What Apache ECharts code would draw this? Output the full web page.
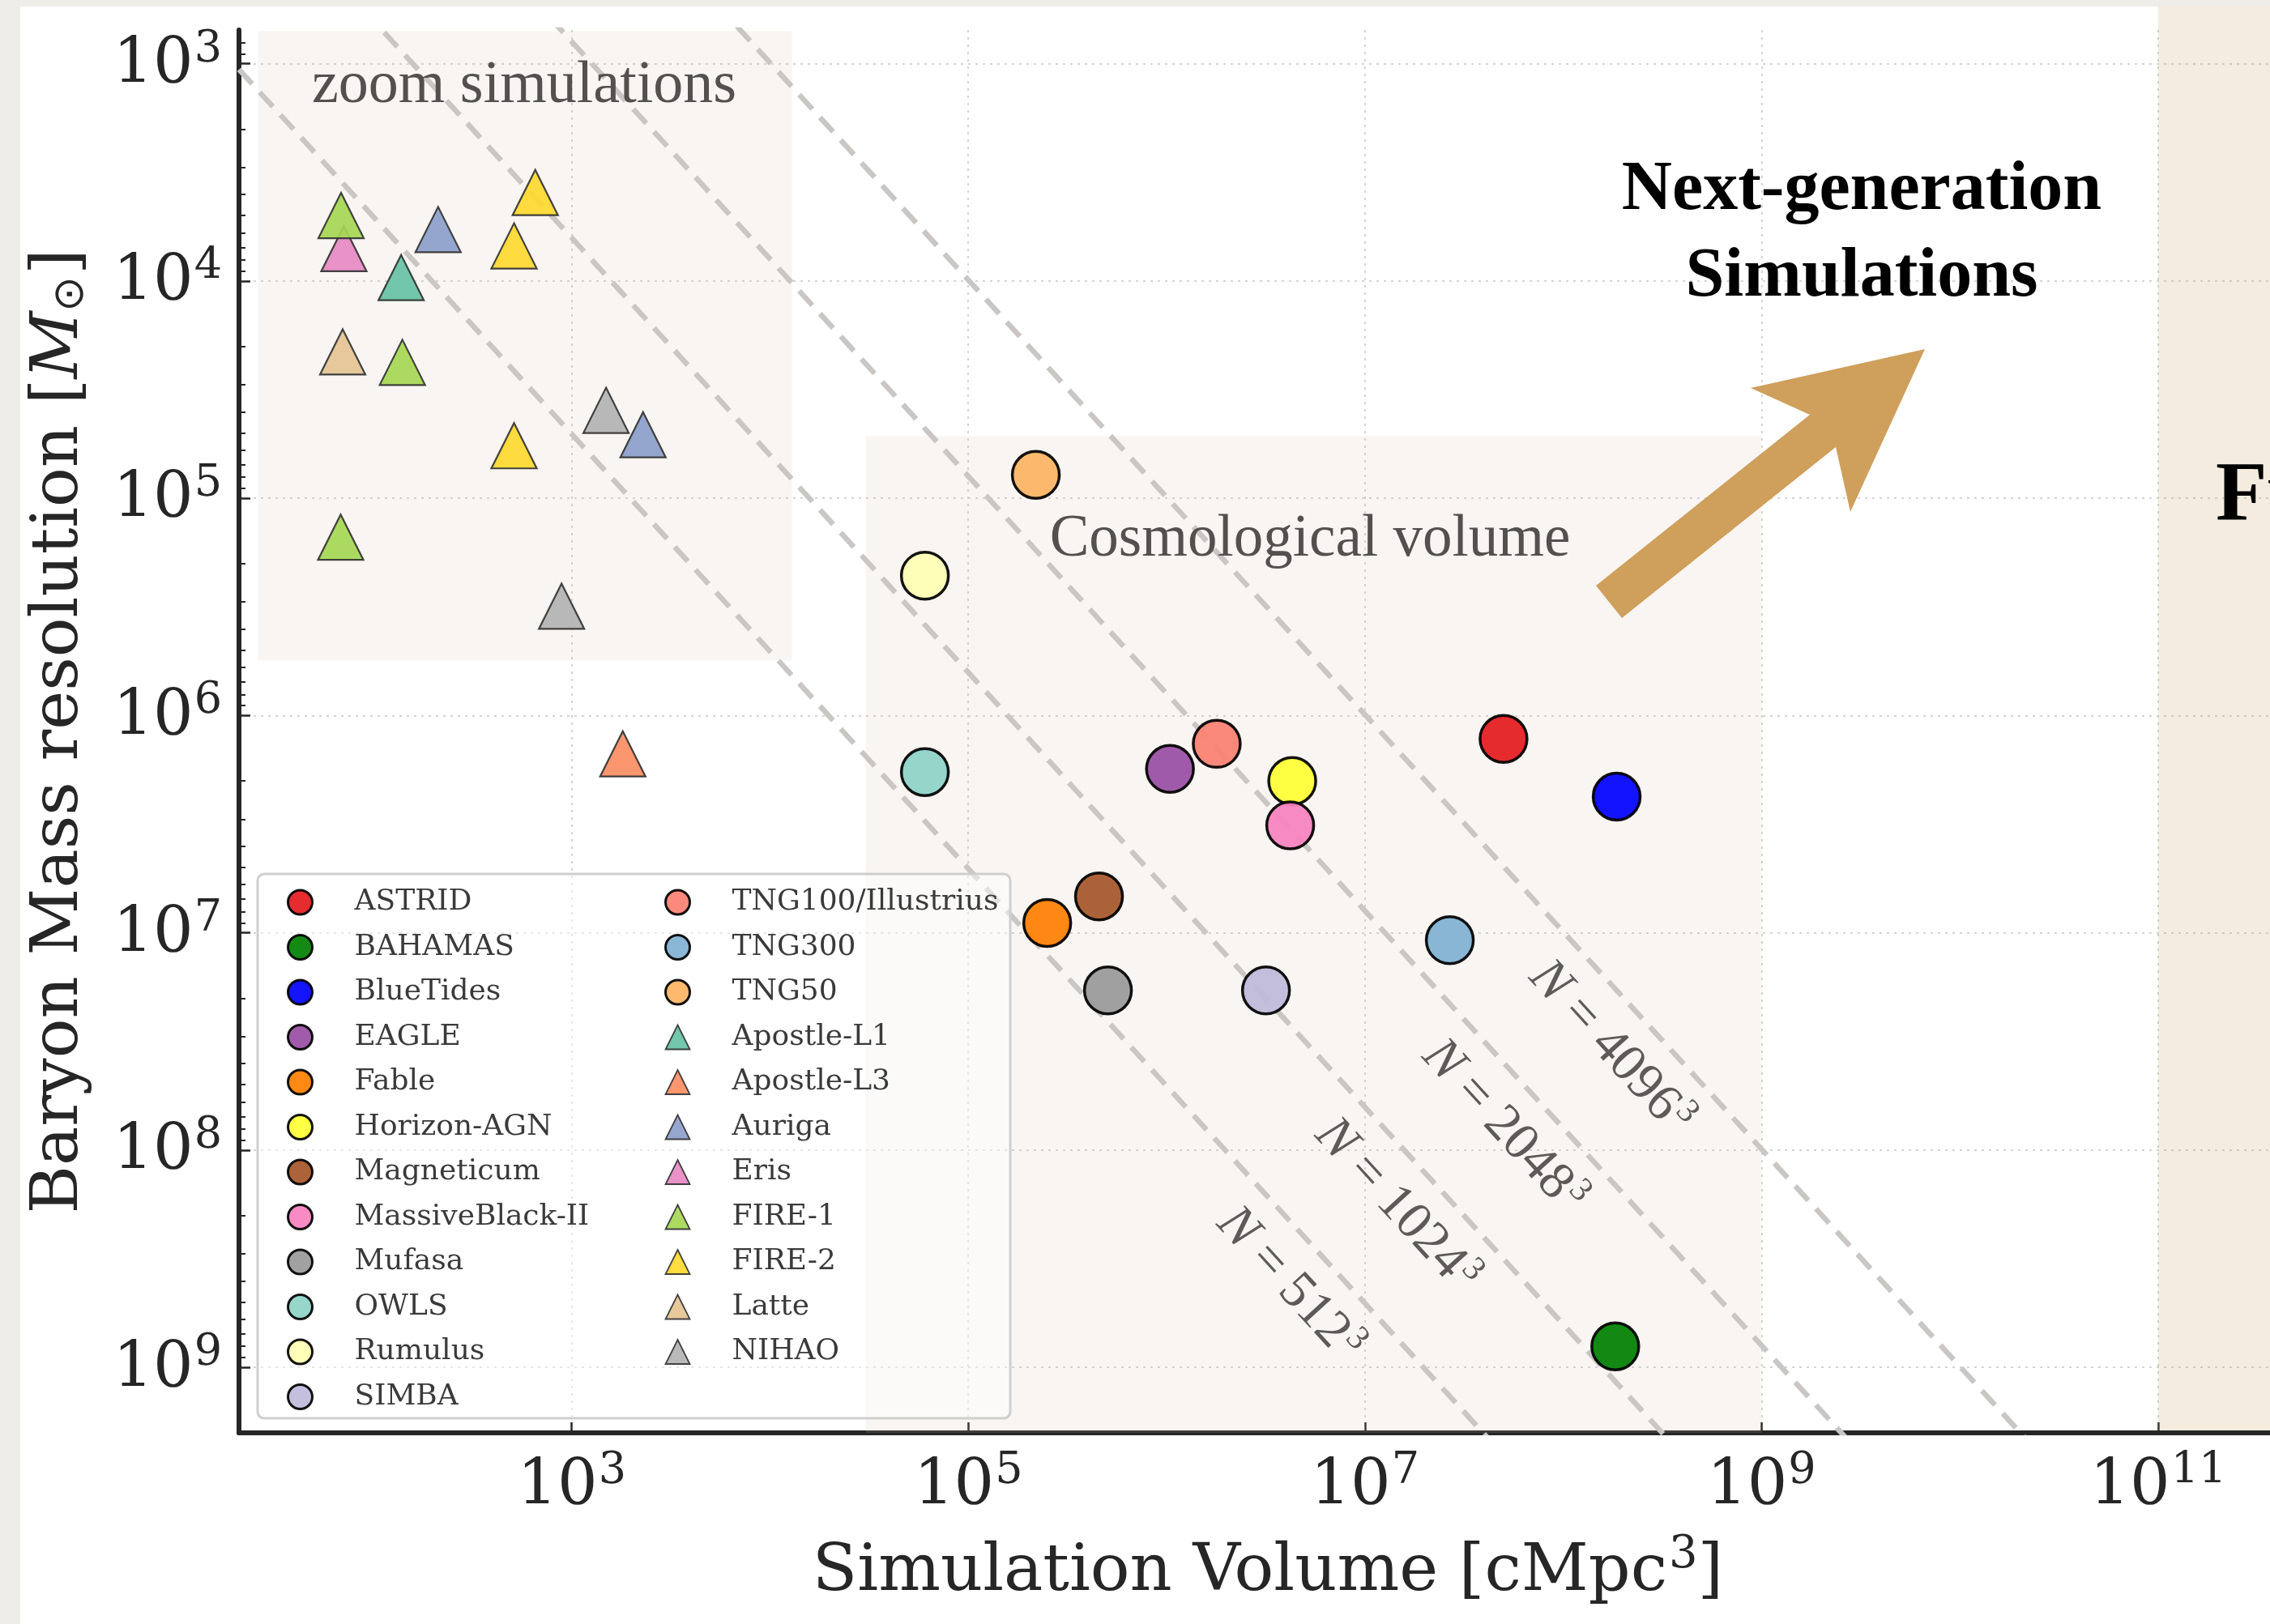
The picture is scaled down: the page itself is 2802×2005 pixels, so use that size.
<!DOCTYPE html>
<html>
<head>
<meta charset="utf-8">
<script src="https://cdn.jsdelivr.net/npm/echarts@6/dist/echarts.min.js"></script>
<style>
  html, body { margin: 0; padding: 0; width: 2802px; height: 2005px; overflow: hidden; background: #eeede8; }
  #card { position: absolute; left: 25px; top: 8px; right: 0; bottom: 0; background: #ffffff; }
  #chart { position: absolute; left: 0; top: 0; width: 2802px; height: 2005px; }
</style>
</head>
<body>
<div id="card"></div>
<div id="chart"></div>
<script>
// ---- Cosmological-volume runs: box volume [cMpc^3] and baryon mass resolution [M_sun]
const cosmoNames  = ['ASTRID', 'BAHAMAS', 'BlueTides', 'EAGLE', 'Fable', 'Horizon-AGN', 'Magneticum',
                     'MassiveBlack-II', 'Mufasa', 'OWLS', 'Rumulus', 'SIMBA', 'TNG100/Illustrius', 'TNG300', 'TNG50'];
const cosmoVolume = [5.0e7, 1.83e8, 1.86e8, 1.04e6, 2.5e5, 4.3e6, 4.56e5,
                     4.2e6, 5.06e5, 6.04e4, 6.04e4, 3.17e6, 1.79e6, 2.68e7, 2.19e5];
const cosmoMass   = [1.28e6, 8.0e8, 2.36e6, 1.76e6, 9.0e6, 2.0e6, 6.8e6,
                     3.2e6, 1.84e7, 1.82e6, 2.27e5, 1.84e7, 1.35e6, 1.08e7, 7.8e4];
const cosmoColors = ['#e41a1c', '#008000', '#0000ff', '#984ea3', '#ff7f00', '#ffff33', '#a65628',
                     '#f781bf', '#999999', '#8dd3c7', '#ffffb3', '#bebada', '#fb8072', '#80b1d3', '#fdb462'];

// ---- Zoom-in runs (some suites have several resolution levels)
const zoomNames  = ['Apostle-L1', 'Apostle-L3', 'Auriga', 'Eris', 'FIRE-1', 'FIRE-2', 'Latte', 'NIHAO'];
const zoomVolume = [[138], [1810], [212, 2290], [71], [68.7, 140, 68.4], [655, 512, 512], [70], [1490, 889]];
const zoomMass   = [[9.65e3], [1.5e6], [5.8e3, 5.1e4], [7.1e3], [5.0e3, 2.37e4, 1.51e5], [3.92e3, 6.9e3, 5.73e4], [2.12e4], [3.94e4, 3.14e5]];
const zoomColors = ['#66c2a5', '#fc8d62', '#8da0cb', '#e78ac3', '#a6d854', '#ffd92f', '#e5c494', '#b3b3b3'];

// ---- Constant particle-number guides: m = rho_b * V / N
const particleCounts = [512, 1024, 2048, 4096];   // N^(1/3)
const baryonDensity = 6.8e9;                      // M_sun / cMpc^3

// ---- Axis decades (log10)
const xTickExponents = [3, 5, 7, 9, 11];
const yTickExponents = [3, 4, 5, 6, 7, 8, 9];
const xMin = Math.log10(21), xMax = Math.log10(5e11);
const yMin = Math.log10(700), yMax = Math.log10(2e9);

const SERIF = 'DejaVu Serif';
const BOOK = 'Liberation Serif';
const INK = '#262626';

const minorTicks = [];
for (let d = 2; d <= 9; d++) {
  for (let k = 2; k <= 9; k++) {
    const v = d + Math.log10(k);
    if (v > yMin && v < yMax) minorTicks.push(v);
  }
}

const powRich = {
  b: { fontFamily: SERIF, fontSize: 78, color: INK, lineHeight: 84, verticalAlign: 'bottom' },
  s: { fontFamily: SERIF, fontSize: 54, color: INK, lineHeight: 54, verticalAlign: 'bottom', padding: [0, 0, 32, 1] }
};
const powerLabel = v => '{b|10}{s|' + Math.round(v) + '}';

const gridLine = { show: true, lineStyle: { color: '#d4d4d4', width: 2, type: [3, 6] } };

const series = [];

// Guide lines for fixed particle number, plus the two shaded regimes
particleCounts.forEach((n, i) => {
  const off = Math.log10(baryonDensity) - 3 * Math.log10(n);
  const s = {
    type: 'line',
    name: 'N' + n,
    data: [[xMin, xMin + off], [xMax, xMax + off]],
    symbol: 'none',
    silent: true,
    z: 2,
    lineStyle: { color: '#c9c6c3', width: 6.5, type: [24, 14] }
  };
  if (i === 0) {
    s.markArea = {
      silent: true,
      itemStyle: { color: 'rgba(215,185,165,0.15)' },
      data: [
        [{ coord: [Math.log10(26.2), Math.log10(708)] }, { coord: [Math.log10(1.29e4), Math.log10(5.57e5)] }],
        [{ coord: [Math.log10(3.04e4), Math.log10(5.18e4)] }, { coord: [9, yMax] }]
      ]
    };
  }
  series.push(s);
});

zoomNames.forEach((name, i) => {
  series.push({
    type: 'scatter',
    name: name,
    symbol: 'triangle',
    symbolSize: 56,
    z: 4,
    data: zoomVolume[i].map((v, j) => [Math.log10(v), Math.log10(zoomMass[i][j])]),
    itemStyle: { color: zoomColors[i], opacity: 0.92, borderColor: '#333333', borderWidth: 2.2 }
  });
});

cosmoNames.forEach((name, i) => {
  series.push({
    type: 'scatter',
    name: name,
    symbol: 'circle',
    symbolSize: 58,
    z: 5,
    data: [[Math.log10(cosmoVolume[i]), Math.log10(cosmoMass[i])]],
    itemStyle: { color: cosmoColors[i], opacity: 0.92, borderColor: '#000000', borderWidth: 3.5 }
  });
});

const legendText = { fontFamily: SERIF, fontSize: 36, color: '#3a3a3a', lineHeight: 30, padding: [0, 0, 0, 47] };
const legendItem = name => {
  const isCircle = cosmoNames.includes(name);
  return {
    name: name,
    itemStyle: isCircle ? { borderColor: '#000', borderWidth: 3 } : { borderColor: '#333', borderWidth: 1.8 }
  };
};
const allNames = cosmoNames.concat(zoomNames);
const col1 = allNames.slice(0, 12);
const col2 = allNames.slice(12);

const legendBase = {
  orient: 'vertical', top: 1096, itemWidth: 30, itemHeight: 30, itemGap: 19.5,
  selectedMode: false, textStyle: legendText, padding: 0
};

const option = {
  backgroundColor: 'transparent',
  animation: false,
  grid: { left: 295, right: -33, top: 37, bottom: 236, containLabel: false, outerBoundsMode: 'none' },
  xAxis: [{
    type: 'value', min: xMin, max: xMax,
    axisLine: { show: true, onZero: false, lineStyle: { color: INK, width: 6 } },
    axisTick: { show: true, inside: true, length: 13, customValues: xTickExponents, lineStyle: { color: INK, width: 2.5 } },
    axisLabel: { customValues: xTickExponents, formatter: powerLabel, rich: powRich, margin: 23 },
    splitLine: gridLine,
    name: '{b|Simulation Volume [cMpc}{s|3}{b|]}',
    nameLocation: 'middle', nameGap: 127,
    nameTextStyle: {
      rich: {
        b: { fontFamily: SERIF, fontSize: 81, color: INK, lineHeight: 86, verticalAlign: 'bottom' },
        s: { fontFamily: SERIF, fontSize: 56, color: INK, lineHeight: 56, verticalAlign: 'bottom', padding: [0, 0, 34, 2] }
      }
    }
  }],
  yAxis: [{
    type: 'value', min: yMin, max: yMax, inverse: true,
    axisLine: { show: true, onZero: false, lineStyle: { color: INK, width: 6 } },
    axisTick: { show: true, inside: true, length: 14, customValues: yTickExponents, lineStyle: { color: INK, width: 2.5 } },
    axisLabel: { customValues: yTickExponents, formatter: powerLabel, rich: powRich, margin: 21 },
    splitLine: gridLine,
    name: '{b|Baryon Mass resolution [}{i|M}{o|⊙}{b|]}',
    nameLocation: 'middle', nameGap: 181, nameRotate: 90,
    nameTextStyle: {
      rich: {
        b: { fontFamily: SERIF, fontSize: 81, color: INK, lineHeight: 86, verticalAlign: 'bottom' },
        i: { fontFamily: SERIF, fontSize: 81, color: INK, lineHeight: 86, verticalAlign: 'bottom', fontStyle: 'italic' },
        o: { fontFamily: 'DejaVu Sans', fontSize: 52, color: INK, lineHeight: 52, verticalAlign: 'bottom', padding: [34, 2, 0, 0] }
      }
    }
  }, {
    type: 'value', min: yMin, max: yMax, inverse: true, position: 'left',
    axisLine: { show: false },
    axisTick: { show: true, inside: true, length: 8, customValues: minorTicks, lineStyle: { color: INK, width: 2 } },
    axisLabel: { show: false },
    splitLine: { show: false }
  }],
  legend: [
    Object.assign({}, legendBase, { left: 354, data: col1.map(legendItem) }),
    Object.assign({}, legendBase, { left: 820, data: col2.map(legendItem) })
  ],
  series: series
};

const chart = echarts.init(document.getElementById('chart'), null, { renderer: 'canvas', width: 2802, height: 2005 });
chart.setOption(option);

// ---- Annotations placed through the axes' own scales
const px = (x, y) => chart.convertToPixel({ gridIndex: 0 }, [x, y]);
const graphics = [];

const axisBottom = px(xMin, yMax)[1];
const beigeLeft = px(11, yMax)[0];
graphics.push({
  type: 'rect', z: 1, silent: true,
  shape: { x: beigeLeft, y: 8, width: 2802 - beigeLeft + 10, height: axisBottom - 3 - 8 },
  style: { fill: 'rgba(205,160,100,0.2)' }
});

// legend frame
graphics.push({
  type: 'rect', z: 3, silent: true,
  shape: { x: 318, y: 1079, width: 929, height: 672, r: 8 },
  style: { fill: 'rgba(255,255,255,0.45)', stroke: '#cfcfcf', lineWidth: 3 }
});

const LABEL_GREY = '#5f5a5a';
const labelRich = {
  i: { fontFamily: BOOK, fontSize: 65, fontStyle: 'italic', fill: LABEL_GREY, lineHeight: 68, verticalAlign: 'bottom' },
  t: { fontFamily: BOOK, fontSize: 65, fill: LABEL_GREY, lineHeight: 68, verticalAlign: 'bottom' },
  s: { fontFamily: BOOK, fontSize: 42, fill: LABEL_GREY, lineHeight: 42, verticalAlign: 'bottom', padding: [0, 0, 28, 2] }
};
particleCounts.forEach((n, i) => {
  const off = Math.log10(baryonDensity) - 3 * Math.log10(n);
  const a = 6.78 + 0.54 * i;
  const p1 = px(a, a + off), p2 = px(a + 1, a + 1 + off);
  const ang = Math.atan2(p2[1] - p1[1], p2[0] - p1[0]);
  const nx = -Math.sin(ang), ny = Math.cos(ang);
  graphics.push({
    type: 'text', z: 6, silent: true,
    x: p1[0] + nx * 52, y: p1[1] + ny * 52, rotation: -ang,
    style: {
      text: '{i|N}{t| = ' + n + '}{s|3}', rich: labelRich, fill: LABEL_GREY,
      align: 'center', verticalAlign: 'middle', textAlign: 'center', textVerticalAlign: 'middle'
    }
  });
});

const plainText = (text, x, y, size, weight, color, align) => ({
  type: 'text', z: 6, silent: true, x: x, y: y,
  style: {
    text: text, fontFamily: BOOK, fontSize: size, fontWeight: weight, fill: color,
    align: align || 'center', verticalAlign: 'middle', textAlign: align || 'center', textVerticalAlign: 'middle'
  }
});
graphics.push(plainText('zoom simulations', 647, 107, 74, 'normal', '#545050'));
graphics.push(plainText('Cosmological volume', 1617, 667, 73, 'normal', '#545050'));
graphics.push(plainText('Next-generation', 2298, 236, 86, 'bold', '#000000'));
graphics.push(plainText('Simulations', 2298, 343, 86, 'bold', '#000000'));
graphics.push(plainText('Future', 2735, 614, 104, 'bold', '#000000', 'left'));

// arrow pointing towards larger volumes and finer resolution
graphics.push({
  type: 'polygon', z: 6, silent: true,
  shape: { points: [[2376, 431], [2161, 479], [2234, 512], [1970, 723], [2002, 763], [2266, 552], [2284, 632]] },
  style: { fill: '#cf9f5c' }
});

chart.setOption({ graphic: graphics });
</script>
</body>
</html>
